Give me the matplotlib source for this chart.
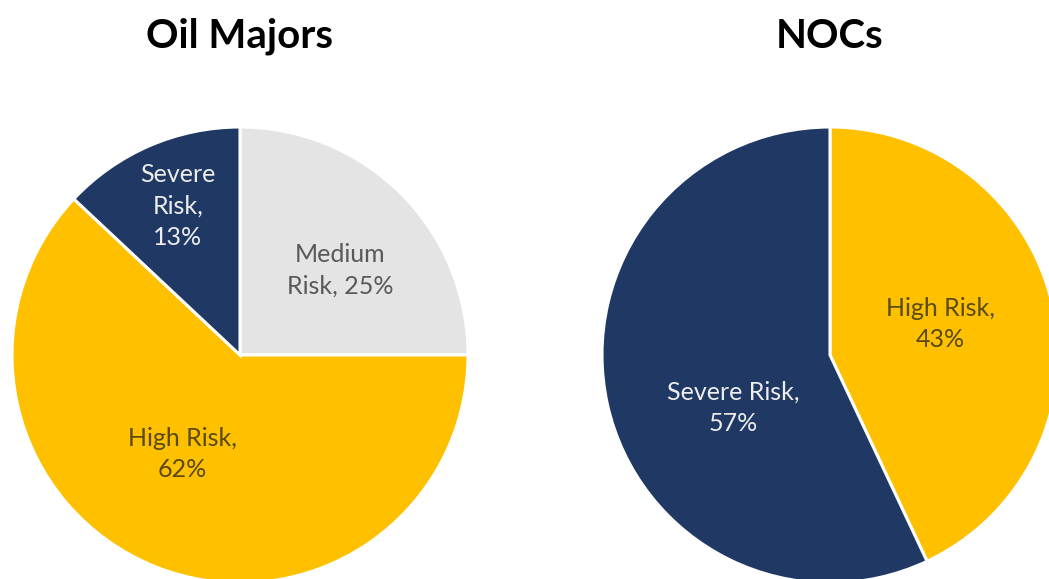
import matplotlib.pyplot as plt

# Oil Majors split (clockwise from 12 o'clock)
majors_labels = ['Medium\nRisk, 25%', 'High Risk,\n62%', 'Severe\nRisk,\n13%']
majors_values = [25, 62, 13]
majors_colors = ['#E5E4E5', '#FFC000', '#203864']
majors_text_colors = ['#595959', '#5A4A14', '#EDEDED']

# NOCs split
nocs_labels = ['High Risk,\n43%', 'Severe Risk,\n57%']
nocs_values = [43, 57]
nocs_colors = ['#FFC000', '#203864']
nocs_text_colors = ['#5A4A14', '#EDEDED']

plt.rcParams['font.family'] = ['Lato', 'DejaVu Sans']

W, H = 1049, 579
fig = plt.figure(figsize=(W / 100, H / 100), dpi=100)
ax = fig.add_axes([0, 0, 1, 1])

R = 228
wp = dict(edgecolor='white', linewidth=2.2)

ax.pie(majors_values, colors=majors_colors, startangle=90, counterclock=False,
       center=(240, H - 355), radius=R, wedgeprops=wp, frame=True)
ax.pie(nocs_values, colors=nocs_colors, startangle=90, counterclock=False,
       center=(830, H - 355), radius=R, wedgeprops=wp, frame=True)
ax.set_xlim(0, W)
ax.set_ylim(0, H)
ax.set_aspect('equal')
ax.axis('off')

# slice labels
majors_pos = [(340, 270), (182, 454), (178, 206)]
for txt, (x, y), c in zip(majors_labels, majors_pos, majors_text_colors):
    ax.text(x, H - y, txt, ha='center', va='center', fontsize=18,
            color=c, linespacing=1.45)

nocs_pos = [(940, 324), (733, 408)]
for txt, (x, y), c in zip(nocs_labels, nocs_pos, nocs_text_colors):
    ax.text(x, H - y, txt, ha='center', va='center', fontsize=18,
            color=c, linespacing=1.45)

# titles
ax.text(240, H - 36, 'Oil Majors', ha='center', va='center',
        fontsize=29, fontweight='bold', color='black')
ax.text(830, H - 36, 'NOCs', ha='center', va='center',
        fontsize=29, fontweight='bold', color='black')

fig.savefig('out.png', dpi=100, facecolor='white')
